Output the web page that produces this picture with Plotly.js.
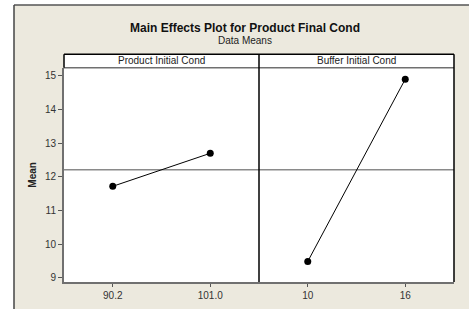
<!DOCTYPE html>
<html><head><meta charset="utf-8">
<script src="https://cdn.plot.ly/plotly-3.0.1.min.js"></script>
<style>html,body{margin:0;padding:0;background:#fff;}</style>
</head><body><div id="chart" style="width:469px;height:309px;"></div>
<script>
const factors = ["Product Initial Cond", "Buffer Initial Cond"];
const levels1 = ["90.2", "101.0"];
const means1 = [11.72, 12.70];
const levels2 = ["10", "16"];
const means2 = [9.49, 14.90];
const overallMean = 12.21;
const yTicks = [9, 10, 11, 12, 13, 14, 15];

const W = 469, H = 309;
const px = v => v / W;
const py = v => 1 - v / H;
const plotL = 64, plotM = 259, plotR = 454, plotT = 67.7, plotB = 282, headT = 54.3;
const titleX = 244.5;

const font = "Liberation Sans, Arial, sans-serif";
const mk = {color: "#000", size: 7};
const ln = {color: "#000", width: 1};

const traces = [
  {x: levels1, y: means1, xaxis: "x", yaxis: "y", mode: "lines+markers", marker: mk, line: ln, hoverinfo: "skip"},
  {x: levels2, y: means2, xaxis: "x2", yaxis: "y", mode: "lines+markers", marker: mk, line: ln, hoverinfo: "skip"}
];

const xCommon = {
  type: "category", range: [-0.5, 1.5], showgrid: false, zeroline: false,
  showline: true, linecolor: "#707070", linewidth: 2, mirror: false,
  ticks: "outside", ticklen: 3, tickcolor: "#555", tickwidth: 1,
  tickfont: {family: font, size: 10, color: "#333"}, fixedrange: true
};

const layout = {
  width: W, height: H,
  margin: {l: 0, r: 0, t: 0, b: 0},
  paper_bgcolor: "#fff", plot_bgcolor: "#fff",
  showlegend: false,
  xaxis: Object.assign({}, xCommon, {domain: [px(plotL), px(plotM)], anchor: "y"}),
  xaxis2: Object.assign({}, xCommon, {domain: [px(plotM), px(plotR)], anchor: "y"}),
  yaxis: {
    domain: [py(plotB), py(plotT)], range: [8.88, 15.24],
    tickvals: yTicks, ticktext: yTicks.map(String),
    showgrid: false, zeroline: false, showline: true, linecolor: "#707070", linewidth: 2,
    ticks: "outside", ticklen: 4, tickcolor: "#555",
    tickfont: {family: font, size: 10, color: "#333"},
    title: {text: "<b>Mean</b>", font: {family: font, size: 10, color: "#222"}, standoff: 6},
    fixedrange: true
  },
  shapes: [
    {type: "rect", xref: "paper", yref: "paper", x0: px(14), x1: 1.01, y0: -0.01, y1: py(5), fillcolor: "#ECE9DE", line: {width: 0}, layer: "below"},
    {type: "line", xref: "paper", yref: "paper", x0: px(14), x1: 1.01, y0: py(5), y1: py(5), line: {color: "#555", width: 1.5}},
    {type: "line", xref: "paper", yref: "paper", x0: px(14), x1: px(14), y0: -0.01, y1: py(5), line: {color: "#444", width: 1.5}},
    {type: "rect", xref: "paper", yref: "paper", x0: px(plotL), x1: px(plotR), y0: py(plotB), y1: py(headT), fillcolor: "#fff", line: {width: 0}, layer: "below"},
    {type: "line", xref: "paper", yref: "y", x0: px(plotL), x1: px(plotR), y0: overallMean, y1: overallMean, line: {color: "#8a8a8a", width: 1.5}, layer: "below"},
    {type: "line", xref: "paper", yref: "paper", x0: px(plotL), x1: px(plotR), y0: py(headT), y1: py(headT), line: {color: "#000", width: 1.5}},
    {type: "line", xref: "paper", yref: "paper", x0: px(plotL), x1: px(plotR), y0: py(plotT), y1: py(plotT), line: {color: "#707070", width: 1.5}},
    {type: "line", xref: "paper", yref: "paper", x0: px(plotL), x1: px(plotL), y0: py(plotT), y1: py(headT), line: {color: "#000", width: 1.5}},
    {type: "line", xref: "paper", yref: "paper", x0: px(plotM), x1: px(plotM), y0: py(plotB), y1: py(headT), line: {color: "#000", width: 1.5}},
    {type: "line", xref: "paper", yref: "paper", x0: px(plotR), x1: px(plotR), y0: py(plotB), y1: py(headT), line: {color: "#000", width: 1.5}}
  ],
  annotations: [
    {text: "<b>Main Effects Plot for Product Final Cond</b>", xref: "paper", yref: "paper", x: px(titleX), y: py(28.5), xanchor: "center", yanchor: "middle", showarrow: false, font: {family: font, size: 12, color: "#111"}},
    {text: "Data Means", xref: "paper", yref: "paper", x: px(titleX), y: py(40.5), xanchor: "center", yanchor: "middle", showarrow: false, font: {family: font, size: 10, color: "#222"}},
    {text: factors[0], xref: "paper", yref: "paper", x: px((plotL + plotM) / 2), y: py(61), xanchor: "center", yanchor: "middle", showarrow: false, font: {family: font, size: 10, color: "#222"}},
    {text: factors[1], xref: "paper", yref: "paper", x: px((plotM + plotR) / 2), y: py(61), xanchor: "center", yanchor: "middle", showarrow: false, font: {family: font, size: 10, color: "#222"}}
  ]
};

Plotly.newPlot("chart", traces, layout, {staticPlot: true, displayModeBar: false});
</script></body></html>
